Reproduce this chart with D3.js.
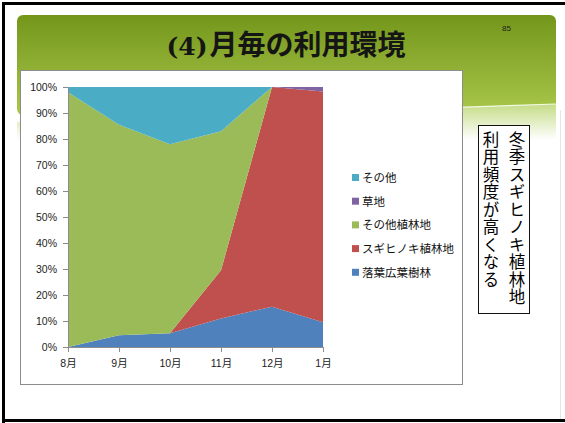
<!DOCTYPE html>
<html><head><meta charset="utf-8">
<script src="https://cdn.jsdelivr.net/npm/d3@7"></script>
<style>
html,body{margin:0;padding:0;background:#fff;}
svg{display:block;}
</style></head>
<body>
<svg id="c" width="565" height="423"></svg>
<script>
// ---- data ----
const months = ["8月","9月","10月","11月","12月","1月"];
const seriesNames = ["落葉広葉樹林","スギヒノキ植林地","その他植林地","草地","その他"];
const broadleaf = [0, 4.5, 5.3, 11, 15.5, 9.5];
const sugiHinoki = [0, 0, 0, 18.5, 84.5, 88.8];
const otherPlantation = [98, 81, 72.7, 53.5, 0, 0];
const grassland = [0, 0, 0, 0, 0, 1.7];
const other = [2, 14.5, 22, 17, 0, 0];
const yTicks = [0,10,20,30,40,50,60,70,80,90,100];
const legendOrder = ["その他","草地","その他植林地","スギヒノキ植林地","落葉広葉樹林"];
const colors = {"落葉広葉樹林":"#4f81bd","スギヒノキ植林地":"#c0504d","その他植林地":"#9bbb59","草地":"#8064a2","その他":"#4bacc6"};
const titleNum = "(4)";
const titleText = "月毎の利用環境";
const pageNo = "85";
const noteCols = ["冬季スギヒノキ植林地","利用頻度が高くなる"];

const svg = d3.select("#c");
const defs = svg.append("defs");
const g1 = defs.append("linearGradient").attr("id","hdr").attr("x1",0).attr("y1",0).attr("x2",0).attr("y2",1);
g1.append("stop").attr("offset","0%").attr("stop-color","#73961a");
g1.append("stop").attr("offset","100%").attr("stop-color","#a9c84c");
const g2 = defs.append("linearGradient").attr("id","wave").attr("x1",0).attr("y1",0).attr("x2",0).attr("y2",1);
g2.append("stop").attr("offset","0%").attr("stop-color","#c4dc86");
g2.append("stop").attr("offset","100%").attr("stop-color","#ffffff");

// header background
svg.append("rect").attr("x",17).attr("y",15).attr("width",539).attr("height",100).attr("rx",6).attr("fill","url(#hdr)");
svg.append("path").attr("d","M17,122 Q300,112 556,104 L556,140 L17,140 Z").attr("fill","url(#wave)");
svg.append("path").attr("d","M17,122 Q300,112 556,104").attr("fill","none").attr("stroke","#f4f8e6").attr("stroke-width",1.2);
svg.append("rect").attr("x",17).attr("y",140).attr("width",545).attr("height",280).attr("fill","#fff");

// frame
svg.append("path").attr("d","M3.5,423 L3.5,3.5 L565,3.5").attr("fill","none").attr("stroke","#000").attr("stroke-width",3);
svg.append("line").attr("x1",3).attr("x2",565).attr("y1",420.5).attr("y2",420.5).attr("stroke","#000").attr("stroke-width",3);
svg.append("line").attr("x1",560.5).attr("x2",560.5).attr("y1",110).attr("y2",419).attr("stroke","#e4e4e4");

// title
const tt = svg.append("text").attr("x",286).attr("y",55).attr("text-anchor","middle").attr("fill","#151515").attr("font-weight","bold");
tt.append("tspan").attr("font-family","'DejaVu Serif'").attr("font-size",25).text(titleNum);
tt.append("tspan").attr("font-family","'Noto Sans CJK JP'").attr("font-size",28).attr("dx",2).text(titleText);
svg.append("text").attr("x",502).attr("y",31).attr("font-family","'Liberation Sans'").attr("font-size",8).attr("fill","#222").text(pageNo);

// chart box
svg.append("rect").attr("x",20.5).attr("y",70.5).attr("width",442).attr("height",314).attr("fill","#fff").attr("stroke","#8c8c8c");

// scales
const x = d3.scalePoint().domain(months).range([68,323]);
const y = d3.scaleLinear().domain([0,100]).range([347,87]);

const rows = months.map((m,i)=>({month:m,"落葉広葉樹林":broadleaf[i],"スギヒノキ植林地":sugiHinoki[i],"その他植林地":otherPlantation[i],"草地":grassland[i],"その他":other[i]}));
const stack = d3.stack().keys(seriesNames);
const layers = stack(rows);
const area = d3.area().x(d=>x(d.data.month)).y0(d=>y(d[0])).y1(d=>y(d[1]));
svg.append("g").selectAll("path").data(layers).join("path")
  .attr("d",area).attr("fill",d=>colors[d.key]);

// axes
const fontAx = "'Liberation Sans','Noto Sans CJK JP'";
const ya = svg.append("g").attr("transform","translate(68,0)")
  .call(d3.axisLeft(y).tickValues(yTicks).tickFormat(d=>d+"%").tickSize(5).tickSizeOuter(0));
ya.select(".domain").attr("stroke","#8c8c8c");
ya.selectAll(".tick line").attr("stroke","#8c8c8c");
ya.selectAll("text").attr("font-family",fontAx).attr("font-size",10.5).attr("fill","#222").attr("x",-11);
const xa = svg.append("g").attr("transform","translate(0,347)")
  .call(d3.axisBottom(x).tickSize(5).tickSizeOuter(0));
xa.select(".domain").attr("stroke","#8c8c8c");
xa.selectAll(".tick line").attr("stroke","#8c8c8c");
xa.selectAll("text").attr("font-family",fontAx).attr("font-size",10.5).attr("fill","#222").attr("y",13);

// legend
const lg = svg.append("g").selectAll("g").data(legendOrder).join("g")
  .attr("transform",(d,i)=>`translate(352,${178+i*23.7})`);
lg.append("rect").attr("x",0).attr("y",-4).attr("width",7).attr("height",7).attr("fill",d=>colors[d]);
lg.append("text").attr("x",10).attr("y",0).attr("dy","0.35em").attr("font-family","'Noto Sans CJK JP'").attr("font-size",11.5).attr("fill","#111").text(d=>d);

// note box
svg.append("rect").attr("x",478.5).attr("y",125.5).attr("width",51).attr("height",188).attr("fill","#fff").attr("stroke","#111");
noteCols.forEach((t,ci)=>{
  const cx = ci===0 ? 517 : 491;
  svg.append("text").attr("x",cx).attr("y",131)
    .attr("font-family","'Noto Sans CJK JP'").attr("font-size",16.5).attr("fill","#000")
    .style("writing-mode","vertical-rl").style("letter-spacing","1px")
    .text(t);
});
</script>
</body></html>
